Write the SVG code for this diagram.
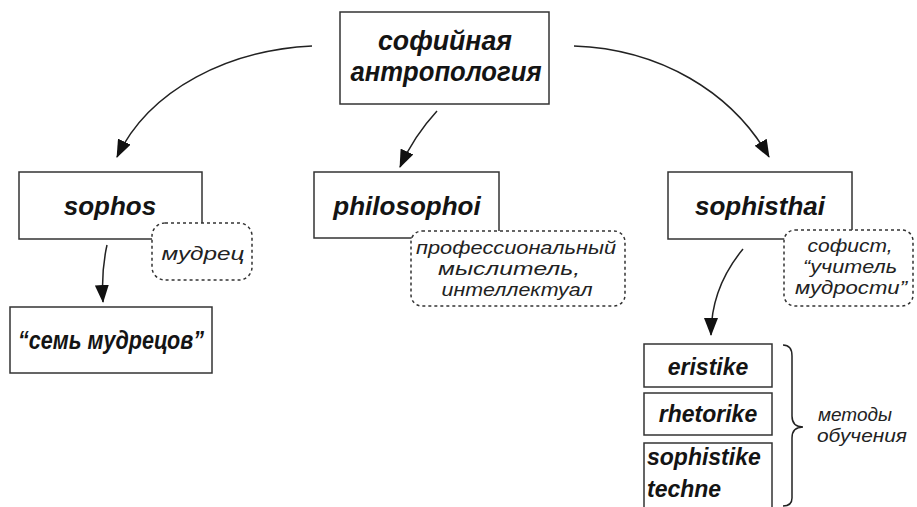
<svg xmlns="http://www.w3.org/2000/svg" width="917" height="507" viewBox="0 0 917 507">
<style>
.box{fill:#fff;stroke:#333;stroke-width:1.5}
.note{fill:#fff;stroke:#333;stroke-width:1.5;stroke-dasharray:3 3}
.lbl{font-family:"Liberation Sans",Arial,sans-serif;font-weight:bold;font-style:italic;fill:#141414}
.nt{font-family:"Liberation Sans",Arial,sans-serif;font-style:italic;font-size:19px;fill:#222}
.conn{fill:none;stroke:#222;stroke-width:1.5}
</style>
<defs>
<marker id="ah" viewBox="0 0 18 14" refX="17" refY="7" markerWidth="18" markerHeight="14" markerUnits="userSpaceOnUse" orient="auto">
<path d="M0,0 L18,7 L0,14 z" fill="#111"/>
</marker>
</defs>
<rect width="917" height="507" fill="#fff"/>

<g id="connectors">
<path class="conn" d="M312,46 C230,50 150,88 117,157" marker-end="url(#ah)"/>
<path class="conn" d="M437,111 Q414,136 400,167" marker-end="url(#ah)"/>
<path class="conn" d="M574,46 C660,49 732,92 769,157" marker-end="url(#ah)"/>
<path class="conn" d="M107,245 Q101,272 103,302" marker-end="url(#ah)"/>
<path class="conn" d="M743,249 C724,272 711,300 711,335" marker-end="url(#ah)"/>
</g>

<g id="root">
<rect class="box" x="340" y="12" width="209" height="92"/>
<text class="lbl" font-size="27" x="445" y="50" text-anchor="middle" textLength="134" lengthAdjust="spacingAndGlyphs">софийная</text>
<text class="lbl" font-size="27" x="446" y="81" text-anchor="middle" textLength="191" lengthAdjust="spacingAndGlyphs">антропология</text>
</g>

<g id="sophos">
<rect class="box" x="19" y="172" width="183" height="67"/>
<text class="lbl" font-size="26" x="110" y="215" text-anchor="middle">sophos</text>
</g>

<g id="philosophoi">
<rect class="box" x="314" y="172" width="185" height="66"/>
<text class="lbl" font-size="26" x="407" y="215" text-anchor="middle">philosophoi</text>
</g>

<g id="sophisthai">
<rect class="box" x="668" y="172" width="184" height="67"/>
<text class="lbl" font-size="26" x="760" y="215" text-anchor="middle">sophisthai</text>
</g>

<g id="note-sophos">
<rect class="note" x="152" y="223" width="100" height="57" rx="13"/>
<text class="nt" font-size="22" x="203" y="260" text-anchor="middle" textLength="83" lengthAdjust="spacingAndGlyphs">мудрец</text>
</g>

<g id="note-philosophoi">
<rect class="note" x="411" y="231" width="214" height="75" rx="11"/>
<text class="nt" x="516" y="254" text-anchor="middle" textLength="200" lengthAdjust="spacingAndGlyphs">профессиональный</text>
<text class="nt" x="509" y="275" text-anchor="middle" textLength="142" lengthAdjust="spacingAndGlyphs">мыслитель,</text>
<text class="nt" x="517" y="296" text-anchor="middle" textLength="151" lengthAdjust="spacingAndGlyphs">интеллектуал</text>
</g>

<g id="note-sophisthai">
<rect class="note" x="784" y="230" width="129" height="76" rx="11"/>
<text class="nt" x="850" y="252" text-anchor="middle" textLength="85" lengthAdjust="spacingAndGlyphs">софист,</text>
<text class="nt" x="850" y="273" text-anchor="middle" textLength="94" lengthAdjust="spacingAndGlyphs">“учитель</text>
<text class="nt" x="851" y="294" text-anchor="middle" textLength="112" lengthAdjust="spacingAndGlyphs">мудрости”</text>
</g>

<g id="seven-sages">
<rect class="box" x="10" y="307" width="202" height="66"/>
<text class="lbl" font-size="25" x="111" y="349" text-anchor="middle" textLength="186" lengthAdjust="spacingAndGlyphs">“семь мудрецов”</text>
</g>

<g id="eristike">
<rect class="box" x="644" y="344" width="128" height="43"/>
<text class="lbl" font-size="23" x="708" y="375" text-anchor="middle">eristike</text>
</g>

<g id="rhetorike">
<rect class="box" x="644" y="393" width="128" height="42"/>
<text class="lbl" font-size="23" x="708" y="422" text-anchor="middle">rhetorike</text>
</g>

<g id="sophistike-techne">
<rect class="box" x="644" y="443" width="128" height="70"/>
<text class="lbl" font-size="23" x="647" y="465">sophistike</text>
<text class="lbl" font-size="23" x="647" y="497">techne</text>
</g>

<g id="methods">
<path class="conn" d="M783,345 Q792,345 792,356 L792,416 Q792,427 803,427 Q792,427 792,438 L792,498 Q792,506 783,506"/>
<text class="nt" x="818" y="421" textLength="74" lengthAdjust="spacingAndGlyphs">методы</text>
<text class="nt" x="817" y="442" textLength="90" lengthAdjust="spacingAndGlyphs">обучения</text>
</g>
</svg>
